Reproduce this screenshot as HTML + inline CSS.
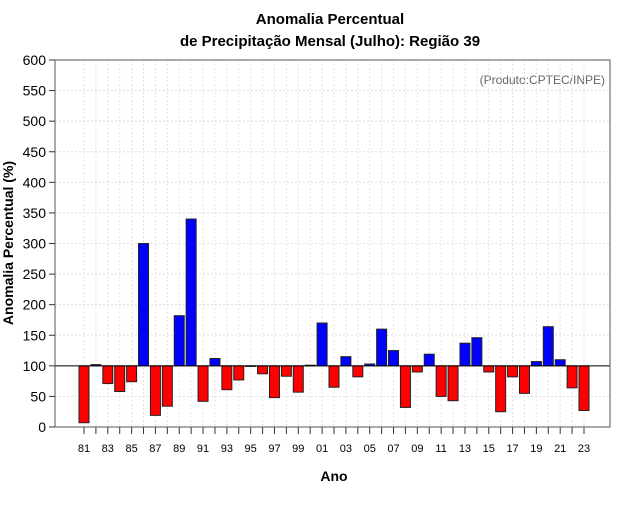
<!DOCTYPE html>
<html><head><meta charset="utf-8"><style>
body{margin:0;background:#fff;font-family:"Liberation Sans",sans-serif}
svg text{font-family:"Liberation Sans",sans-serif}
</style></head><body>
<svg id="c" width="640" height="500">
<text x="330" y="24" text-anchor="middle" font-size="15" font-weight="bold">Anomalia Percentual</text>
<text x="330" y="46" text-anchor="middle" font-size="15" font-weight="bold">de Precipitação Mensal (Julho): Região 39</text>
<text x="605" y="84" text-anchor="end" font-size="12" fill="#666">(Produto:CPTEC/INPE)</text>
<text x="334" y="481" text-anchor="middle" font-size="14" font-weight="bold">Ano</text>
<text transform="translate(13,243) rotate(-90)" text-anchor="middle" font-size="14" font-weight="bold">Anomalia Percentual (%)</text>
<g id="grid"></g><g id="bars"></g><g id="axes"></g>
</svg>
<script>
const years=["81","82","83","84","85","86","87","88","89","90","91","92","93","94","95","96","97","98","99","00","01","02","03","04","05","06","07","08","09","10","11","12","13","14","15","16","17","18","19","20","21","22","23"];
const values=[7,102,71,58,74,300,19,34,182,340,42,112,61,77,99,87,48,83,57,101,170,65,115,82,103,160,125,32,90,119,50,43,137,146,90,25,82,55,107,164,110,64,27];
const yTicks=[0,50,100,150,200,250,300,350,400,450,500,550,600];
const baseline=100;
const L=55,R=610,T=60,B=427;
const y=v=>B-(v/600)*(B-T);
const x=i=>84+i*(500/42);
const NS="http://www.w3.org/2000/svg";
function mk(tag,attrs,parent){const e=document.createElementNS(NS,tag);for(const k in attrs)e.setAttribute(k,attrs[k]);document.getElementById(parent).appendChild(e);return e;}
yTicks.forEach(t=>{
 const g=mk('line',{x1:L,x2:R,y1:y(t),y2:y(t),stroke:'#ddd','stroke-dasharray':'2,2'},'grid');
 
 
 const tk=mk('line',{x1:L-6,x2:L,y1:y(t),y2:y(t),stroke:'#333'},'axes');
 
 
 const tx=mk('text',{x:L-9,y:y(t)+5,'text-anchor':'end','font-size':'14'},'axes');
 tx.textContent=t;
 
 
});
years.forEach((yr,i)=>{
 const g=mk('line',{x1:x(i),x2:x(i),y1:T,y2:B,stroke:'#e4e4e4','stroke-dasharray':'2,2'},'grid');
 
 
 const tk=mk('line',{x1:x(i),x2:x(i),y1:B,y2:B+7,stroke:'#333'},'axes');
 
 
 if(i%2===0){const tx=mk('text',{x:x(i),y:B+25,'text-anchor':'middle','font-size':'11'},'axes');
 tx.textContent=yr;
 
 }
 const v=values[i];
 const top=Math.min(y(v),y(baseline)),h=Math.abs(y(v)-y(baseline));
 const r=mk('rect',{x:x(i)-5,y:top,width:10,height:Math.max(h,0.5),fill:v>=baseline?'#0000ff':'#ff0000',stroke:'#222','stroke-width':1},'bars');
 
 
});
const bl=mk('line',{x1:L,x2:R,y1:y(baseline),y2:y(baseline),stroke:'#000'},'axes');


const box=mk('rect',{x:L,y:T,width:R-L,height:B-T,fill:'none',stroke:'#555'},'axes');


</script>
</body></html>
